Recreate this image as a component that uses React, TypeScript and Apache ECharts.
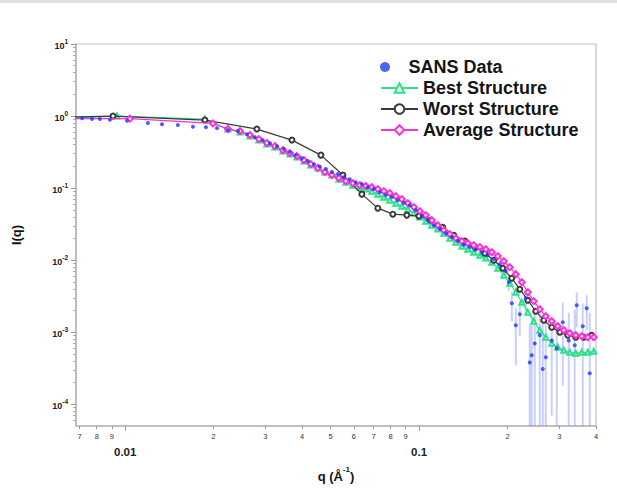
import React, { useEffect, useRef } from 'react';
import * as echarts from 'echarts';

// ---------- data ----------
const sansQ = [
  0.00713, 0.00771, 0.0082, 0.00887, 0.01014, 0.01194, 0.01334, 0.01511, 0.017, 0.01882,
  0.02052, 0.02238, 0.02421, 0.02597, 0.02762, 0.02942, 0.0311, 0.03284, 0.03467, 0.03634,
  0.0381, 0.0399, 0.0419, 0.0439, 0.0459, 0.0482, 0.0505, 0.0529, 0.0555, 0.0581,
  0.0609, 0.0638, 0.0669, 0.0701, 0.0735, 0.0771, 0.0808, 0.0847, 0.0888, 0.093,
  0.0975, 0.1022, 0.1071, 0.1123, 0.1177, 0.1234, 0.1294, 0.1356, 0.1421, 0.1489,
  0.156, 0.1636, 0.1714, 0.1796, 0.1883, 0.1973, 0.202, 0.2068, 0.2134, 0.2202,
  0.2307, 0.238, 0.2417, 0.2475, 0.2574, 0.2636, 0.2698, 0.2828, 0.294, 0.3083,
  0.3231, 0.3386, 0.344, 0.3605, 0.3719, 0.3808,
];
const sansI = [
  0.93, 0.91, 0.91, 0.89, 0.86, 0.8, 0.77, 0.75, 0.71, 0.7,
  0.68, 0.64, 0.62, 0.56, 0.51, 0.46, 0.42, 0.38, 0.35, 0.316,
  0.287, 0.26, 0.237, 0.215, 0.2, 0.184, 0.167, 0.157, 0.142, 0.133,
  0.121, 0.114, 0.103, 0.097, 0.088, 0.08, 0.075, 0.068, 0.062, 0.058,
  0.0495, 0.0409, 0.0359, 0.0306, 0.027, 0.0236, 0.0209, 0.0184, 0.0164, 0.0152,
  0.014, 0.0129, 0.0117, 0.0104, 0.0088, 0.0071, 0.00495, 0.00253, 0.00125, 0.00178,
  0.00297, 0.00038, 0.00048, 0.0007, 0.00091, 0.00031, 0.00045, 0.00077, 0.0006, 0.00138,
  0.00077, 0.00066, 0.00237, 0.00121, 0.00216, 0.00027,
];
const sansErr = [
  0.02, 0.02, 0.02, 0.02, 0.02, 0.02, 0.02, 0.02, 0.02, 0.02,
  0.015, 0.015, 0.015, 0.012, 0.012, 0.01, 0.01, 0.01, 0.008, 0.008,
  0.007, 0.006, 0.006, 0.005, 0.005, 0.004, 0.004, 0.004, 0.003, 0.003,
  0.003, 0.003, 0.002, 0.002, 0.002, 0.002, 0.002, 0.002, 0.0015, 0.0015,
  0.0015, 0.0012, 0.0012, 0.001, 0.001, 0.001, 0.0009, 0.0009, 0.0008, 0.0008,
  0.0007, 0.0007, 0.0007, 0.0007, 0.0008, 0.0009, 0.0012, 0.0011, 0.0009, 0.0009,
  0.001, 0.0009, 0.0012, 0.0012, 0.0011, 0.001, 0.0011, 0.0007, 0.0008, 0.0012,
  0.0011, 0.0014, 0.0012, 0.0013, 0.0011, 0.0016,
];

const modelQ = [
  0.02236, 0.02457, 0.02656, 0.0285, 0.03035, 0.03231, 0.0344, 0.03634, 0.03839, 0.04055,
  0.04283, 0.04523, 0.04779, 0.05048, 0.05333, 0.05634, 0.05951, 0.06287, 0.06589, 0.06906,
  0.07238, 0.07587, 0.07952, 0.08334, 0.08735, 0.09158, 0.09599, 0.1006, 0.1054, 0.1105,
  0.1158, 0.1214, 0.1272, 0.1334, 0.1398, 0.1465, 0.1535, 0.1609, 0.1687, 0.1768,
  0.1853, 0.1942, 0.2036, 0.2134, 0.2236, 0.2344, 0.2457, 0.2575, 0.2698, 0.2828,
  0.2965, 0.3107, 0.3257, 0.3413, 0.3578, 0.375, 0.393,
];
const bestQLow = [0.0066, 0.00938, 0.01867];
const bestILow = [0.94, 1.0, 0.909];
const bestI = [
  0.66, 0.599, 0.527, 0.464, 0.409, 0.371, 0.327, 0.297, 0.27, 0.237,
  0.209, 0.19, 0.167, 0.152, 0.133, 0.121, 0.11, 0.103, 0.0969, 0.0908,
  0.0825, 0.075, 0.0681, 0.0619, 0.0562, 0.0511, 0.045, 0.0396, 0.0348, 0.0306,
  0.027, 0.0237, 0.0202, 0.0178, 0.0156, 0.0142, 0.0129, 0.0117, 0.0107, 0.00938,
  0.00774, 0.00619, 0.00479, 0.00359, 0.00261, 0.0019, 0.00142, 0.00107, 0.000852, 0.000704,
  0.000619, 0.000562, 0.000527, 0.000511, 0.000527, 0.000527, 0.000545,
];
const avgQLow = [0.0066, 0.01038, 0.01988];
const avgILow = [0.92, 0.92, 0.79];
const avgI = [
  0.66, 0.619, 0.545, 0.479, 0.422, 0.383, 0.337, 0.306, 0.278, 0.245,
  0.215, 0.19, 0.167, 0.152, 0.138, 0.125, 0.117, 0.11, 0.107, 0.103,
  0.0969, 0.0908, 0.0852, 0.0774, 0.0704, 0.0619, 0.0545, 0.0479, 0.0422, 0.0359,
  0.0306, 0.0261, 0.023, 0.0202, 0.0184, 0.0172, 0.0162, 0.0152, 0.0142, 0.0129,
  0.0114, 0.00968, 0.00799, 0.00639, 0.00495, 0.00359, 0.0027, 0.00209, 0.00167, 0.00142,
  0.00121, 0.00107, 0.000968, 0.000908, 0.00088, 0.000852, 0.000852,
];
const worstQ = [
  0.00649, 0.00909, 0.01867, 0.02805, 0.03692, 0.04633, 0.05504, 0.06387, 0.07238, 0.08141,
  0.09088, 0.0998, 0.1096, 0.1204, 0.1313, 0.1431, 0.1547, 0.1674, 0.1796, 0.1927,
  0.2067, 0.2202, 0.2344, 0.2495, 0.2657, 0.2828, 0.3012, 0.3207, 0.3413, 0.3634, 0.387,
];
const worstI = [
  0.968, 1.0, 0.88, 0.66, 0.464, 0.287, 0.152, 0.0825, 0.0527, 0.0435,
  0.0422, 0.0409, 0.0359, 0.0287, 0.0222, 0.0184, 0.0152, 0.0125, 0.01, 0.00774,
  0.00562, 0.00396, 0.00278, 0.00196, 0.00147, 0.00117, 0.001, 0.000908, 0.000852, 0.000852, 0.000908,
];

const xMajorTicks = [0.01, 0.1];
const xMajorLabels = ['0.01', '0.1'];
const xMinorTicks = [0.007, 0.008, 0.009, 0.02, 0.03, 0.04, 0.05, 0.06, 0.07, 0.08, 0.09, 0.2, 0.3, 0.4];
const xMinorLabels = ['7', '8', '9', '2', '3', '4', '5', '6', '7', '8', '9', '2', '3', '4'];
const yMajorTicks = [1e-4, 1e-3, 1e-2, 1e-1, 1, 10];
const yMajorExponents = ['-4', '-3', '-2', '-1', '0', '1'];
const yMinorDigits = [2, 3, 4, 5, 6, 7, 8, 9];

const X_MIN = 0.0068;
const X_MAX = 0.4;
const Y_MIN = 5e-5;
const Y_MAX = 10;

const FONT = 'Liberation Sans, Arial, Helvetica, sans-serif';

const lg = (v: number) => Math.log10(v);
const findIdx = (arr: number[], v: number) => {
  let best = 0;
  let d = Infinity;
  arr.forEach((t, i) => {
    const dd = Math.abs(lg(t) - v);
    if (dd < d) { d = dd; best = i; }
  });
  return best;
};

export default function App() {
  const ref = useRef<HTMLDivElement>(null);
  useEffect(() => {
    if (!ref.current) return;
    const chart = echarts.init(ref.current, undefined, { renderer: 'svg' });

    const yMinorTicks: number[] = [];
    for (let e = -5; e <= 0; e++) {
      yMinorDigits.forEach((d) => {
        const v = d * Math.pow(10, e);
        if (v > Y_MIN * 1.001 && v < Y_MAX) yMinorTicks.push(v);
      });
    }

    const xLogMin = lg(X_MIN);
    const xLogMax = lg(X_MAX);
    const yLogMin = lg(Y_MIN);
    const yLogMax = lg(Y_MAX);

    const bestAllI = [...bestILow, ...bestI];
    const avgAllI = [...avgILow, ...avgI];
    const bestData = [...bestQLow, ...modelQ].map((q, i) => [q, bestAllI[i]]);
    const avgData = [...avgQLow, ...modelQ].map((q, i) => [q, avgAllI[i]]);
    const worstData = worstQ.map((q, i) => [q, worstI[i]]);
    const sansData = sansQ.map((q, i) => [q, sansI[i]]);
    const errData = sansQ.map((q, i) => [q, sansI[i], sansErr[i]]);

    const legendText = { fontFamily: FONT, fontSize: 18, fontWeight: 'bold', color: '#151515', lineHeight: 18 };

    const option: any = {
      animation: false,
      backgroundColor: '#ffffff',
      textStyle: { fontFamily: FONT },
      graphic: [
        { type: 'rect', shape: { x: 0, y: 0, width: 617, height: 3 }, style: { fill: '#dde1e6' }, silent: true },
      ],
      grid: {
        left: 76, right: 21, top: 44, bottom: 66,
        show: true, borderColor: '#c2c2c2', borderWidth: 1.2, backgroundColor: 'transparent',
      },
      legend: [
        {
          data: ['SANS Data'],
          orient: 'vertical', left: 380, top: 58, padding: 0,
          itemWidth: 37, itemHeight: 10, selectedMode: false,
          textStyle: legendText,
        },
        {
          data: ['Best Structure', 'Worst Structure', 'Average Structure'],
          orient: 'vertical', left: 380, top: 79, padding: 0, itemGap: 3,
          itemWidth: 37, itemHeight: 12, selectedMode: false,
          textStyle: legendText,
        },
      ],
      xAxis: [
        { type: 'log', logBase: 10, min: X_MIN, max: X_MAX, show: false, position: 'bottom' },
        {
          type: 'value', min: xLogMin, max: xLogMax, position: 'bottom',
          name: '{a|q (Å}{s|-1}{a|)}', nameLocation: 'middle', nameGap: 39,
          nameTextStyle: {
            rich: {
              a: { fontFamily: FONT, fontSize: 13, fontWeight: 'bold', color: '#151515', lineHeight: 18, verticalAlign: 'bottom' },
              s: { fontFamily: FONT, fontSize: 8, fontWeight: 'bold', color: '#151515', lineHeight: 18, verticalAlign: 'top' },
            },
          },
          axisLine: { show: true, onZero: false, lineStyle: { color: '#b5b5b5', width: 1.5 } },
          axisTick: { show: true, customValues: xMinorTicks.map(lg), length: 3, lineStyle: { color: '#999' } },
          axisLabel: {
            show: true, customValues: xMinorTicks.map(lg), margin: 6,
            fontFamily: FONT, fontSize: 7.5, color: '#333',
            formatter: (v: number) => xMinorLabels[findIdx(xMinorTicks, v)],
          },
          splitLine: { show: false },
        },
        {
          type: 'value', min: xLogMin, max: xLogMax, position: 'bottom',
          axisLine: { show: false, onZero: false },
          axisTick: { show: true, customValues: xMajorTicks.map(lg), length: 5, lineStyle: { color: '#999' } },
          axisLabel: {
            show: true, customValues: xMajorTicks.map(lg), margin: 20,
            fontFamily: FONT, fontSize: 11.5, fontWeight: 'bold', color: '#222',
            formatter: (v: number) => xMajorLabels[findIdx(xMajorTicks, v)],
          },
          splitLine: { show: false },
        },
      ],
      yAxis: [
        { type: 'log', logBase: 10, min: Y_MIN, max: Y_MAX, show: false, position: 'left' },
        {
          type: 'value', min: yLogMin, max: yLogMax, position: 'left',
          name: 'I(q)', nameLocation: 'middle', nameGap: 53, nameRotate: 90,
          nameTextStyle: { fontFamily: FONT, fontSize: 13, fontWeight: 'bold', color: '#151515' },
          axisLine: { show: true, onZero: false, lineStyle: { color: '#b5b5b5', width: 1.5 } },
          axisTick: { show: true, customValues: yMajorTicks.map(lg), length: 5, lineStyle: { color: '#999' } },
          axisLabel: {
            show: true, customValues: yMajorTicks.map(lg), margin: 8,
            formatter: (v: number) => `{b|10}{s|${yMajorExponents[findIdx(yMajorTicks, v)]}}`,
            rich: {
              b: { fontFamily: FONT, fontSize: 9, fontWeight: 'bold', color: '#222', lineHeight: 13, verticalAlign: 'bottom' },
              s: { fontFamily: FONT, fontSize: 6.5, fontWeight: 'bold', color: '#222', lineHeight: 13, verticalAlign: 'top' },
            },
          },
          splitLine: { show: false },
        },
        {
          type: 'value', min: yLogMin, max: yLogMax, position: 'left',
          axisLine: { show: false, onZero: false },
          axisTick: { show: true, customValues: yMinorTicks.map(lg), length: 3, lineStyle: { color: '#aaa' } },
          axisLabel: { show: false },
          splitLine: { show: false },
        },
      ],
      series: [
        {
          type: 'custom', name: 'errbars', xAxisIndex: 0, yAxisIndex: 0, clip: true,
          data: errData, encode: { x: 0, y: 1 }, silent: true, z: 1,
          renderItem: (params: any, api: any) => {
            const q = api.value(0);
            const v = api.value(1);
            const e = api.value(2);
            if (!e) return null;
            const lo = Math.max(v - e, Y_MIN);
            const p1 = api.coord([q, lo]);
            const p2 = api.coord([q, v + e]);
            return {
              type: 'line',
              shape: { x1: p1[0], y1: p1[1], x2: p2[0], y2: p2[1] },
              style: { stroke: 'rgba(110,128,255,0.38)', lineWidth: 2 },
            };
          },
        },
        {
          type: 'line', name: 'Best Structure', data: bestData, xAxisIndex: 0, yAxisIndex: 0,
          symbol: 'emptyTriangle', symbolSize: 5, color: '#2fe08a',
          lineStyle: { width: 1.2, color: '#2fe08a' }, itemStyle: { color: '#2fe08a', borderWidth: 1 }, z: 2,
        },
        {
          type: 'line', name: 'Worst Structure', data: worstData, xAxisIndex: 0, yAxisIndex: 0,
          symbol: 'emptyCircle', symbolSize: 5, color: '#3a3a3a',
          lineStyle: { width: 1.2, color: '#3a3a3a' }, itemStyle: { color: '#3a3a3a', borderWidth: 1 }, z: 3,
        },
        {
          type: 'line', name: 'Average Structure', data: avgData, xAxisIndex: 0, yAxisIndex: 0,
          symbol: 'emptyDiamond', symbolSize: 6, color: '#ff2fd6',
          lineStyle: { width: 1.2, color: '#ff2fd6' }, itemStyle: { color: '#ff2fd6', borderWidth: 1 }, z: 4,
        },
        {
          type: 'scatter', name: 'SANS Data', data: sansData, xAxisIndex: 0, yAxisIndex: 0,
          symbol: 'circle', symbolSize: 4, color: '#1f3cf5', itemStyle: { color: '#1f3cf5' }, z: 5,
        },
      ],
    };
    chart.setOption(option);
    return () => chart.dispose();
  }, []);
  return (
    <div
      ref={ref}
      style={{ position: 'absolute', left: 0, top: 0, width: 617, height: 492, background: '#fff' }}
    />
  );
}
